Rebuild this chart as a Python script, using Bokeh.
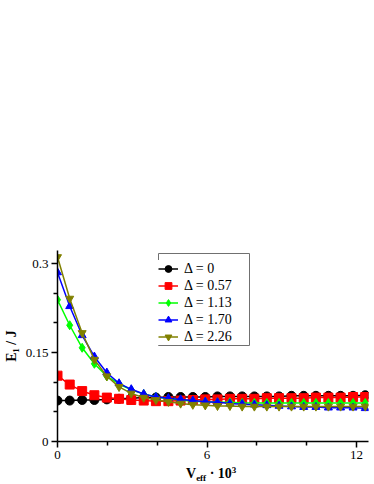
from bokeh.plotting import figure
from bokeh.layouts import column
from bokeh.models import (Range1d, FixedTicker, NumeralTickFormatter, Legend, LegendItem, Div,
                          BoxAnnotation)
from bokeh.embed import file_html
from bokeh.resources import INLINE

# ---- data ----
v_eff = [0.0, 0.49, 0.99, 1.48, 1.98, 2.47, 2.96, 3.46, 3.95, 4.45, 4.94, 5.43, 5.93,
         6.42, 6.92, 7.41, 7.90, 8.40, 8.89, 9.39, 9.88, 10.37, 10.87, 11.36, 11.86, 12.35]

e_d0 = [0.069, 0.069, 0.070, 0.070, 0.071, 0.072, 0.073, 0.074, 0.074, 0.075, 0.075, 0.075, 0.075,
        0.076, 0.076, 0.076, 0.076, 0.076, 0.076, 0.077, 0.077, 0.077, 0.077, 0.077, 0.077, 0.078]
e_d057 = [0.111, 0.096, 0.085, 0.078, 0.074, 0.072, 0.070, 0.069, 0.068, 0.068, 0.069, 0.070, 0.071,
          0.071, 0.072, 0.072, 0.072, 0.073, 0.073, 0.073, 0.073, 0.074, 0.074, 0.074, 0.075, 0.075]
e_d113 = [0.239, 0.196, 0.158, 0.131, 0.110, 0.097, 0.087, 0.080, 0.075, 0.072, 0.070, 0.068, 0.067,
          0.066, 0.066, 0.065, 0.065, 0.065, 0.065, 0.065, 0.065, 0.065, 0.065, 0.065, 0.065, 0.065]
e_d170 = [0.285, 0.228, 0.179, 0.143, 0.116, 0.098, 0.088, 0.080, 0.075, 0.073, 0.071, 0.069, 0.067,
          0.066, 0.064, 0.063, 0.062, 0.061, 0.060, 0.059, 0.058, 0.058, 0.057, 0.057, 0.057, 0.056]
e_d226 = [0.311, 0.241, 0.183, 0.138, 0.110, 0.092, 0.081, 0.074, 0.070, 0.067, 0.064, 0.062, 0.061,
          0.060, 0.060, 0.059, 0.059, 0.059, 0.059, 0.059, 0.059, 0.059, 0.059, 0.059, 0.059, 0.059]

series_labels = ["Δ = 0", "Δ = 0.57", "Δ = 1.13", "Δ = 1.70", "Δ = 2.26"]
x_ticks = [0, 6, 12]
x_minor = [2, 4, 8, 10]
y_ticks = [0, 0.15, 0.3]
y_minor = [0.05, 0.1, 0.2, 0.25]

FONT = "'Liberation Serif', 'Times New Roman', serif"

p = figure(width=374, height=464, output_backend="svg", toolbar_location=None,
           x_range=Range1d(0, 12.48), y_range=Range1d(0, 0.322),
           min_border_left=56, min_border_right=6, min_border_top=250, min_border_bottom=23)
p.outline_line_color = None
p.xgrid.visible = False
p.ygrid.visible = False
p.background_fill_color = "white"
p.border_fill_color = "white"

for ax in (p.xaxis[0], p.yaxis[0]):
    ax.axis_line_width = 1.5
    ax.axis_line_color = "black"
    ax.major_tick_out = 6
    ax.major_tick_in = 0
    ax.minor_tick_out = 4
    ax.minor_tick_in = 0
    ax.major_tick_line_width = 1.5
    ax.minor_tick_line_width = 1.5
    ax.major_label_text_font = FONT
    ax.major_label_text_font_size = "13px"
    ax.major_label_text_color = "black"
    ax.major_label_standoff = 3

p.xaxis[0].ticker = FixedTicker(ticks=x_ticks, minor_ticks=x_minor)
p.yaxis[0].ticker = FixedTicker(ticks=y_ticks, minor_ticks=y_minor)
p.yaxis[0].formatter = NumeralTickFormatter(format="0.[00]")

p.yaxis[0].axis_label = "E₁ / J"
p.yaxis[0].axis_label_text_font = FONT
p.yaxis[0].axis_label_text_font_size = "14px"
p.yaxis[0].axis_label_text_font_style = "bold"
p.yaxis[0].axis_label_text_color = "black"
p.yaxis[0].axis_label_standoff = 4

specs = [
    (e_d0, "black", "circle", 9),
    (e_d057, "#ff0000", "square", 9),
    (e_d113, "#00ff00", "diamond", 9),
    (e_d170, "#0000ff", "triangle", 8),
    (e_d226, "#808000", "inverted_triangle", 8),
]

items = []
for (ys, col, mk, sz), lab in zip(specs, series_labels):
    l = p.line(v_eff, ys, line_color=col, line_width=1.5)
    s = p.scatter(v_eff, ys, marker=mk, size=sz, fill_color=col, line_color=col)
    items.append(LegendItem(label=lab, renderers=[l, s]))

legend = Legend(items=items, location=(101, 96))
legend.label_text_font = FONT
legend.label_text_font_size = "14px"
legend.label_text_color = "black"
legend.border_line_color = None
legend.padding = 4
legend.spacing = 0
legend.margin = 0
legend.label_height = 17
legend.glyph_height = 17
legend.glyph_width = 20
legend.label_standoff = 6
legend.background_fill_color = "white"
legend.background_fill_alpha = 1
p.add_layout(legend, "center")

# legend frame (the measured label width is wider than the rendered serif text)
legend_box = BoxAnnotation(left=101, right=192, bottom=96, top=188,
                           left_units="screen", right_units="screen",
                           bottom_units="screen", top_units="screen",
                           fill_alpha=0, line_color="#707070", line_width=1, line_alpha=1)
p.add_layout(legend_box)

xlabel = Div(
    text='V<span style="font-size:9px;line-height:0;vertical-align:-3px">eff</span> · 10'
         '<span style="font-size:9px;line-height:0;vertical-align:5px">3</span>',
    width=374, height=20, margin=(0, 0, 0, 0),
    styles={"font-family": "'Liberation Serif', 'Times New Roman', serif",
            "font-weight": "bold", "font-size": "14px", "line-height": "16px",
            "padding-left": "186px", "padding-top": "2px", "color": "black",
            "box-sizing": "border-box", "white-space": "nowrap", "overflow": "visible"},
)

layout = column(p, xlabel, spacing=0)
open("out.html", "w").write(file_html(layout, INLINE))
